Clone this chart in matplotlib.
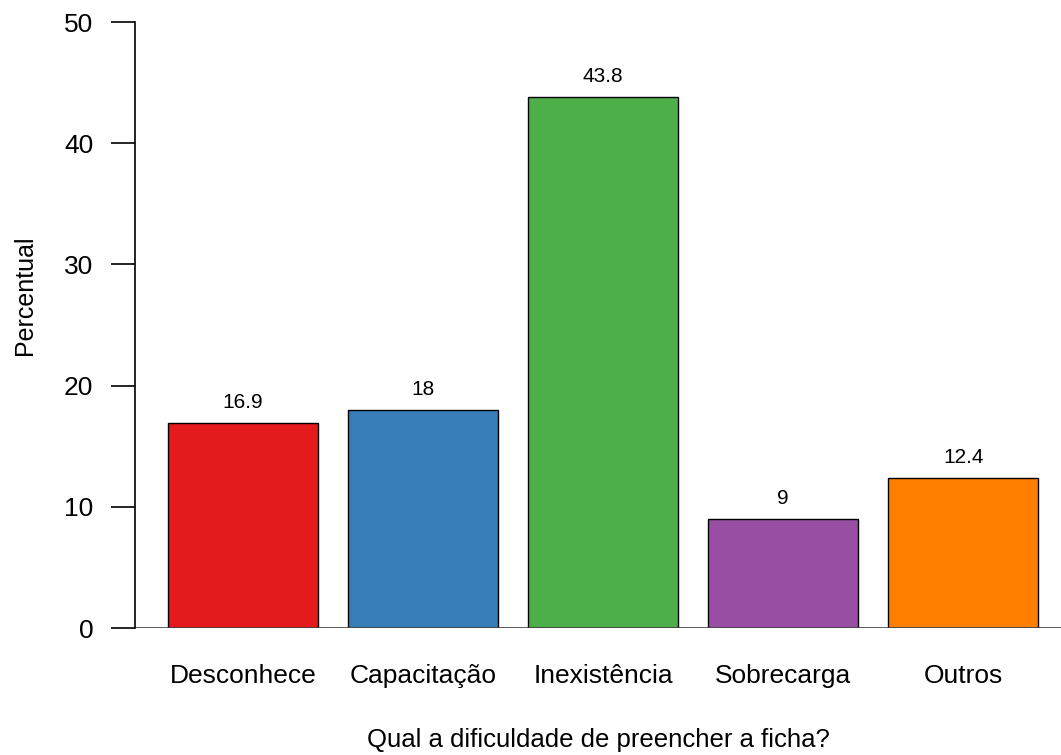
import numpy as np
import matplotlib.pyplot as plt

plt.rcParams['font.family'] = ['Liberation Sans', 'DejaVu Sans']

categories = ['Desconhece', 'Capacitação', 'Inexistência', 'Sobrecarga', 'Outros']
values = [16.9, 18, 43.8, 9, 12.4]
value_labels = ['16.9', '18', '43.8', '9', '12.4']
colors = ['#E41A1C', '#377EB8', '#4DAF4A', '#984EA3', '#FF7F00']

W, H = 1061, 755
fig = plt.figure(figsize=(W / 100, H / 100), dpi=100)
# axes box in pixels: x from 133 to 1073, y (0..50) from 628 to 22
ax = fig.add_axes([133 / W, 1 - 628 / H, 940 / W, (628 - 22) / H])

# R barplot layout: width 1, space 0.2
x = 0.2 + np.arange(len(values)) * 1.2 + 0.5
ax.bar(x, values, width=1, color=colors, edgecolor='black', linewidth=1)
ax.set_xlim(-0.032, 6.232)
ax.set_ylim(0, 50)
ax.axhline(0, color='#444444', linewidth=1.2)

for xi, v, lab in zip(x, values, value_labels):
    ax.text(xi, v + 1.25, lab, ha='center', va='baseline', fontsize=15, clip_on=False)

for s in ['top', 'right', 'bottom']:
    ax.spines[s].set_visible(False)
ax.spines['left'].set_linewidth(1.2)
ax.spines['left'].set_position(('data', -0.02))
ax.set_yticks([0, 10, 20, 30, 40, 50])
ax.tick_params(axis='y', direction='out', length=17, width=1.2, labelsize=19, pad=13)
ax.set_xticks(x)
ax.set_xticklabels(categories)
ax.tick_params(axis='x', length=0, labelsize=19, pad=26)

fig.text(32 / W, 1 - 295 / H, 'Percentual', rotation=90, rotation_mode='anchor',
         ha='center', va='baseline', fontsize=18)
fig.text(598 / W, 1 - 747 / H, 'Qual a dificuldade de preencher a ficha?',
         ha='center', va='baseline', fontsize=18.5)

fig.savefig('out.png', dpi=100)
